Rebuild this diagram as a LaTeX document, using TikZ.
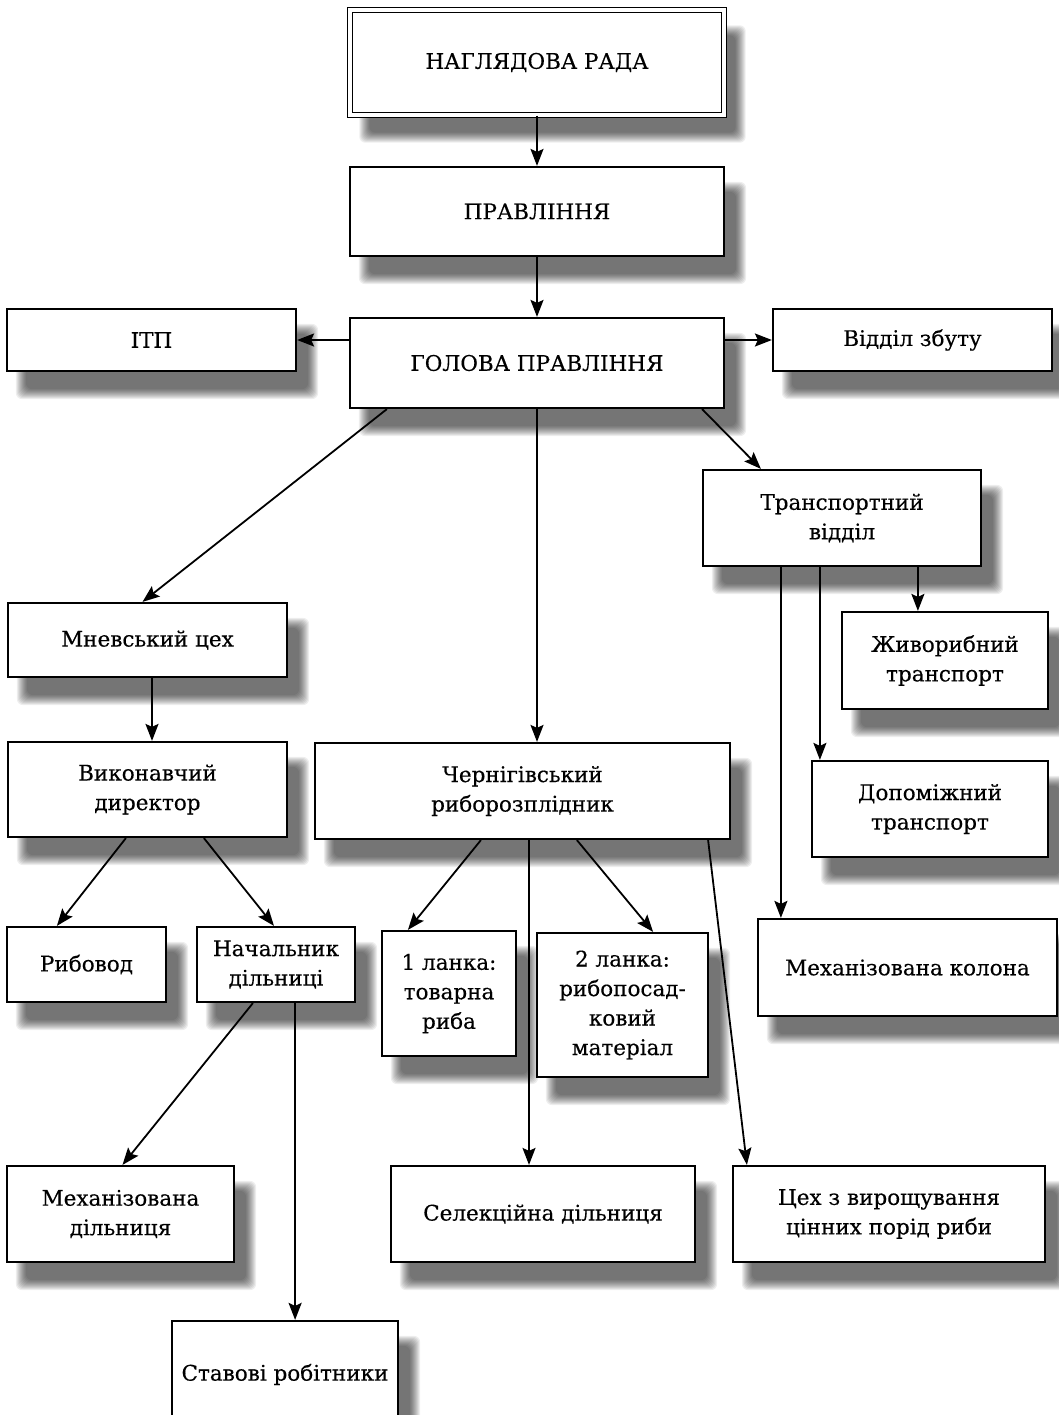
\documentclass[tikz,border=0pt]{standalone}
\usepackage{fontspec}
\setmainfont{DejaVu Serif}
\newfontfamily\boxfont[FakeBold=0.35]{DejaVu Serif}
\usetikzlibrary{arrows.meta,calc}
\pgfdeclarelayer{back}
\pgfdeclarelayer{shade}
\pgfsetlayers{back,shade,main}
\begin{document}
\begin{tikzpicture}[x=1pt,y=-1pt,
  box/.style={draw=black, line width=2.2pt, fill=white, rectangle, inner sep=2pt,
    align=center, font=\boxfont\fontsize{21.5}{29.5}\selectfont},
  dbox/.style={box, double=white, double distance=4pt, line width=1.4pt},
  arr/.style={line width=1.8pt, -{Stealth[length=17pt,width=13pt,inset=3pt]}},
  shadowpiece/.style={fill=black, opacity=0.065, draw=none}]
\begin{pgfonlayer}{back}
\fill[white] (0,0) rectangle (1058,1415);
\end{pgfonlayer}
\useasboundingbox (0,0) rectangle (1058,1415);
\clip (0,0) rectangle (1058,1415);

\node[dbox, minimum width=374pt, minimum height=105pt] (rada) at (537,62.5) {НАГЛЯДОВА РАДА};
\node[box, minimum width=374pt, minimum height=89pt] (prav) at (537,211.5) {ПРАВЛІННЯ};
\node[box, minimum width=374pt, minimum height=90pt] (golova) at (537,363) {ГОЛОВА ПРАВЛІННЯ};
\node[box, minimum width=289pt, minimum height=62pt] (itp) at (151.5,340) {ІТП};
\node[box, minimum width=279pt, minimum height=62pt] (zbut) at (912.5,340) {Відділ збуту};
\node[box, minimum width=278pt, minimum height=96pt] (transp) at (842,518) {Транспортний\\відділ};
\node[box, minimum width=279pt, minimum height=74pt] (mnev) at (147.5,640) {Мневський цех};
\node[box, minimum width=279pt, minimum height=95pt] (vykon) at (147.5,789.5) {Виконавчий\\директор};
\node[box, minimum width=415pt, minimum height=96pt] (chern) at (522.5,791) {Чернігівський\\риборозплідник};
\node[box, minimum width=206pt, minimum height=97pt] (zhyvo) at (945,660.5) {Живорибний\\транспорт};
\node[box, minimum width=236pt, minimum height=96pt] (dopom) at (930,809) {Допоміжний\\транспорт};
\node[box, minimum width=299pt, minimum height=97pt] (mkolona) at (907.5,967.5) {Механізована колона};
\node[box, minimum width=159pt, minimum height=75pt] (rybovod) at (86.5,964.5) {Рибовод};
\node[box, minimum width=158pt, minimum height=75pt] (nach) at (276,964.5) {Начальник\\дільниці};
\node[box, minimum width=134pt, minimum height=125pt] (lanka1) at (449,993.5) {1 ланка:\\товарна\\риба};
\node[box, minimum width=171pt, minimum height=144pt] (lanka2) at (622.5,1005) {2 ланка:\\рибопосад-\\ковий\\матеріал};
\node[box, minimum width=227pt, minimum height=96pt] (mdiln) at (120.5,1214) {Механізована\\дільниця};
\node[box, minimum width=304pt, minimum height=96pt] (selek) at (543,1214) {Селекційна дільниця};
\node[box, minimum width=312pt, minimum height=96pt] (tsekh) at (889,1214) {Цех з вирощування\\цінних порід риби};
\node[box, minimum width=226pt, minimum height=107pt] (stav) at (285,1374.5) {Ставові робітники};

\begin{pgfonlayer}{shade}
\foreach \n in {rada,prav,golova,itp,zbut,transp,mnev,vykon,chern,zhyvo,dopom,mkolona,rybovod,nach,lanka1,lanka2,mdiln,selek,tsekh,stav}{
  \foreach \i in {-5,-4,...,5}{
    \fill[shadowpiece, rounded corners=6pt]
      ($(\n.north west)+(15+\i,21+\i)$) rectangle ($(\n.south east)+(16-\i,22-\i)$);
  }
}
\end{pgfonlayer}

\coordinate (g1) at ([xshift=38pt]golova.south west);
\coordinate (g2) at ([xshift=-23pt]golova.south east);
\coordinate (t1) at ([xshift=79pt]transp.south west);
\coordinate (t2) at ([xshift=118pt]transp.south west);
\coordinate (t3) at ([xshift=216pt]transp.south west);
\coordinate (v1) at ([xshift=119pt]vykon.south west);
\coordinate (v2) at ([xshift=197pt]vykon.south west);
\coordinate (n1) at ([xshift=57pt]nach.south west);
\coordinate (n2) at ([xshift=-61pt]nach.south east);
\coordinate (c1) at ([xshift=167pt]chern.south west);
\coordinate (c2) at ([xshift=6.5pt]chern.south);
\coordinate (c3) at ([xshift=263pt]chern.south west);
\coordinate (c4) at ([xshift=-23pt]chern.south east);
\coordinate (m1) at ([xshift=4.5pt]mnev.south);

\draw[arr] (rada.south) -- (prav.north);
\draw[arr] (prav.south) -- (golova.north);
\draw[arr] (golova.west |- itp.center) -- (itp.east);
\draw[arr] (golova.east |- zbut.center) -- (zbut.west);
\draw[arr] (g1) -- ([xshift=-5pt]mnev.north);
\draw[arr] (golova.south) -- (golova.south |- chern.north);
\draw[arr] (g2) -- ([xshift=59pt]transp.north west);
\draw[arr] (t3) -- (t3 |- zhyvo.north);
\draw[arr] (t2) -- (t2 |- dopom.north);
\draw[arr] (t1) -- (t1 |- mkolona.north);
\draw[arr] (m1) -- (m1 |- vykon.north);
\draw[arr] (v1) -- ([xshift=51pt]rybovod.north west);
\draw[arr] (v2) -- ([xshift=-2pt]nach.north);
\draw[arr] (n1) -- ([xshift=2pt]mdiln.north);
\draw[arr] (n2) -- (n2 |- stav.north);
\draw[arr] (c1) -- ([xshift=27pt]lanka1.north west);
\draw[arr] (c2) -- (c2 |- selek.north);
\draw[arr] (c3) -- ([xshift=-56pt]lanka2.north east);
\draw[arr] (c4) -- ([xshift=15pt]tsekh.north west);
\end{tikzpicture}
\end{document}
